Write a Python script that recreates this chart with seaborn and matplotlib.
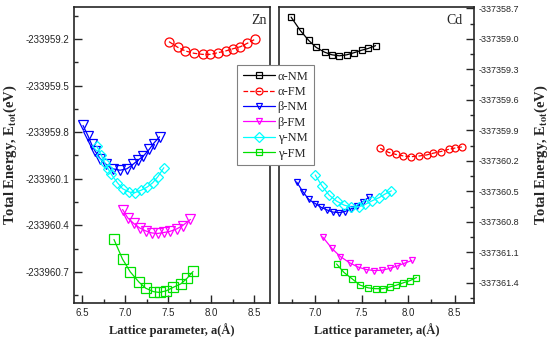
import matplotlib
matplotlib.use('Agg')
import matplotlib.pyplot as plt
import seaborn as sns
from matplotlib.ticker import MultipleLocator, FormatStrFormatter

# ---- Zn panel data (lattice parameter in A, total energy in eV) ----
zn_alpha_fm_a = [7.51, 7.61, 7.70, 7.80, 7.90, 7.99, 8.08, 8.17, 8.26, 8.34, 8.42, 8.51]
zn_alpha_fm_e = [-233959.217, -233959.253, -233959.277, -233959.292, -233959.299, -233959.299,
                 -233959.288, -233959.277, -233959.262, -233959.250, -233959.228, -233959.202]

zn_beta_nm_a = [6.51, 6.57, 6.61, 6.65, 6.71, 6.78, 6.86, 6.94, 7.02, 7.09, 7.15, 7.21, 7.28, 7.33, 7.40]
zn_beta_nm_e = [-233959.757, -233959.826, -233959.879, -233959.922, -233959.971, -233960.008,
                -233960.036, -233960.045, -233960.036, -233960.008, -233959.980, -233959.955,
                -233959.911, -233959.873, -233959.830]

zn_beta_fm_a = [6.97, 7.03, 7.10, 7.17, 7.24, 7.31, 7.38, 7.45, 7.52, 7.60, 7.67, 7.76]
zn_beta_fm_e = [-233960.298, -233960.352, -233960.388, -233960.417, -233960.436, -233960.449,
                -233960.452, -233960.446, -233960.439, -233960.423, -233960.401, -233960.362]

zn_gamma_nm_a = [6.67, 6.72, 6.76, 6.80, 6.84, 6.91, 6.97, 7.05, 7.11, 7.19, 7.26, 7.32, 7.38, 7.45]
zn_gamma_nm_e = [-233959.890, -233959.944, -233959.997, -233960.034, -233960.072, -233960.126,
                 -233960.164, -233960.186, -233960.190, -233960.173, -233960.152, -233960.126,
                 -233960.087, -233960.029]

zn_gamma_fm_a = [6.87, 6.97, 7.06, 7.16, 7.24, 7.33, 7.40, 7.48, 7.56, 7.65, 7.72, 7.79]
zn_gamma_fm_e = [-233960.491, -233960.618, -233960.700, -233960.765, -233960.805, -233960.827,
                 -233960.832, -233960.821, -233960.799, -233960.776, -233960.741, -233960.697]

# ---- Cd panel data ----
cd_alpha_nm_a = [6.74, 6.84, 6.93, 7.01, 7.10, 7.18, 7.26, 7.34, 7.42, 7.50, 7.57, 7.65]
cd_alpha_nm_e = [-337358.785, -337358.918, -337359.015, -337359.083, -337359.130, -337359.156,
                 -337359.166, -337359.156, -337359.135, -337359.111, -337359.094, -337359.066]

cd_alpha_fm_a = [7.70, 7.79, 7.87, 7.95, 8.03, 8.12, 8.20, 8.27, 8.35, 8.44, 8.51, 8.58]
cd_alpha_fm_e = [-337360.075, -337360.116, -337360.136, -337360.151, -337360.158, -337360.151,
                 -337360.141, -337360.124, -337360.108, -337360.085, -337360.072, -337360.062]

cd_beta_nm_a = [6.80, 6.87, 6.93, 7.00, 7.06, 7.13, 7.19, 7.26, 7.32, 7.38, 7.45, 7.51, 7.58]
cd_beta_nm_e = [-337360.407, -337360.506, -337360.578, -337360.619, -337360.654, -337360.683,
                -337360.703, -337360.708, -337360.698, -337360.674, -337360.644, -337360.604,
                -337360.555]

cd_beta_fm_a = [7.08, 7.18, 7.27, 7.37, 7.46, 7.55, 7.63, 7.72, 7.80, 7.88, 7.96, 8.04]
cd_beta_fm_e = [-337360.947, -337361.061, -337361.140, -337361.201, -337361.243, -337361.268,
                -337361.278, -337361.275, -337361.257, -337361.234, -337361.206, -337361.179]

cd_gamma_nm_a = [7.00, 7.07, 7.15, 7.23, 7.31, 7.39, 7.47, 7.54, 7.61, 7.69, 7.75, 7.82]
cd_gamma_nm_e = [-337360.338, -337360.442, -337360.536, -337360.595, -337360.634, -337360.654,
                 -337360.651, -337360.626, -337360.593, -337360.560, -337360.526, -337360.494]

cd_gamma_fm_a = [7.23, 7.31, 7.40, 7.48, 7.57, 7.65, 7.73, 7.80, 7.87, 7.95, 8.02, 8.09]
cd_gamma_fm_e = [-337361.213, -337361.297, -337361.361, -337361.420, -337361.448, -337361.456,
                 -337361.456, -337361.440, -337361.423, -337361.398, -337361.377, -337361.347]

sns.set_style('ticks')
plt.rcParams['font.family'] = ['Liberation Serif', 'DejaVu Serif']
plt.rcParams['mathtext.fontset'] = 'stix'
plt.rcParams['xtick.direction'] = 'in'
plt.rcParams['ytick.direction'] = 'in'

styles = {
    'α-NM': dict(color='black', marker='s', ls='-'),
    'α-FM': dict(color='red', marker='o', ls='--'),
    'β-NM': dict(color='blue', marker='v', ls='-'),
    'β-FM': dict(color='magenta', marker='v', ls='-'),
    'γ-NM': dict(color='cyan', marker='D', ls='-'),
    'γ-FM': dict(color='#00e000', marker='s', ls='-'),
}


def draw(ax, a, e, name):
    st = styles[name]
    ms = 5.5 if st['marker'] == 'D' else 6.5
    sns.lineplot(x=a, y=e, ax=ax, color=st['color'], marker=st['marker'], markersize=ms,
                 markerfacecolor='none', markeredgecolor=st['color'], markeredgewidth=0.9,
                 linewidth=0.9, linestyle=st['ls'], label=name, sort=False, estimator=None)


fig = plt.figure(figsize=(5.5, 3.39), dpi=100)
ax1 = fig.add_axes([74 / 550, 36 / 339, 196 / 550, 296 / 339])
ax2 = fig.add_axes([279 / 550, 36 / 339, 195 / 550, 296 / 339])

draw(ax1, zn_alpha_fm_a, zn_alpha_fm_e, 'α-FM')
draw(ax1, zn_beta_nm_a, zn_beta_nm_e, 'β-NM')
draw(ax1, zn_beta_fm_a, zn_beta_fm_e, 'β-FM')
draw(ax1, zn_gamma_nm_a, zn_gamma_nm_e, 'γ-NM')
draw(ax1, zn_gamma_fm_a, zn_gamma_fm_e, 'γ-FM')

draw(ax2, cd_alpha_nm_a, cd_alpha_nm_e, 'α-NM')
draw(ax2, cd_alpha_fm_a, cd_alpha_fm_e, 'α-FM')
draw(ax2, cd_beta_nm_a, cd_beta_nm_e, 'β-NM')
draw(ax2, cd_beta_fm_a, cd_beta_fm_e, 'β-FM')
draw(ax2, cd_gamma_nm_a, cd_gamma_nm_e, 'γ-NM')
draw(ax2, cd_gamma_fm_a, cd_gamma_fm_e, 'γ-FM')

ax1.set_xlim(6.405, 8.685)
ax1.set_ylim(-233960.9, -233958.994)
ax2.set_xlim(6.61, 8.71)
ax2.set_ylim(-337361.597, -337358.686)

ax2.yaxis.tick_right()
ax2.yaxis.set_label_position('right')

ylab = r'Total Energy, E$_{\mathbf{tot}}$(eV)'
xlab = 'Lattice parameter, a(Å)'
for ax, ysize in ((ax1, 7), (ax2, 6.5)):
    if ax.get_legend():
        ax.get_legend().remove()
    ax.xaxis.set_major_locator(MultipleLocator(0.5))
    ax.xaxis.set_minor_locator(MultipleLocator(0.25))
    ax.yaxis.set_major_locator(MultipleLocator(0.3))
    ax.yaxis.set_minor_locator(MultipleLocator(0.15))
    ax.xaxis.set_major_formatter(FormatStrFormatter('%.1f'))
    ax.yaxis.set_major_formatter(FormatStrFormatter('%.1f'))
    ax.tick_params(which='major', length=6, width=1)
    ax.tick_params(which='minor', length=3, width=1)
    ax.tick_params(axis='x', labelsize=7, labelfontfamily='Liberation Sans')
    ax.tick_params(axis='y', labelsize=ysize, labelfontfamily='Liberation Sans')
    for sp in ax.spines.values():
        sp.set_linewidth(1.2)
        sp.set_visible(True)
    ax.set_xlabel(xlab, fontsize=9, fontweight='bold', labelpad=4)
    ax.set_ylabel(ylab, fontsize=10.5, fontweight='bold')

ax1.yaxis.set_label_coords(-0.28, 0.5)
ax2.yaxis.set_label_coords(1.3, 0.5)

ax1.text(0.985, 0.956, 'Zn', transform=ax1.transAxes, ha='right', va='center', fontsize=10)
ax2.text(0.94, 0.956, 'Cd', transform=ax2.transAxes, ha='right', va='center', fontsize=10)

handles, labels = ax2.get_legend_handles_labels()
for h in handles:
    h.set_markersize(5)
leg = fig.legend(handles, labels, loc='upper left', bbox_to_anchor=(237 / 550, 1 - 65 / 339),
                 borderaxespad=0, fontsize=9, handlelength=2.6, labelspacing=0.27,
                 handletextpad=0.2, borderpad=0.45, fancybox=False, framealpha=1,
                 edgecolor='#808080')
leg.get_frame().set_linewidth(0.8)

fig.savefig('out.png', dpi=100)
